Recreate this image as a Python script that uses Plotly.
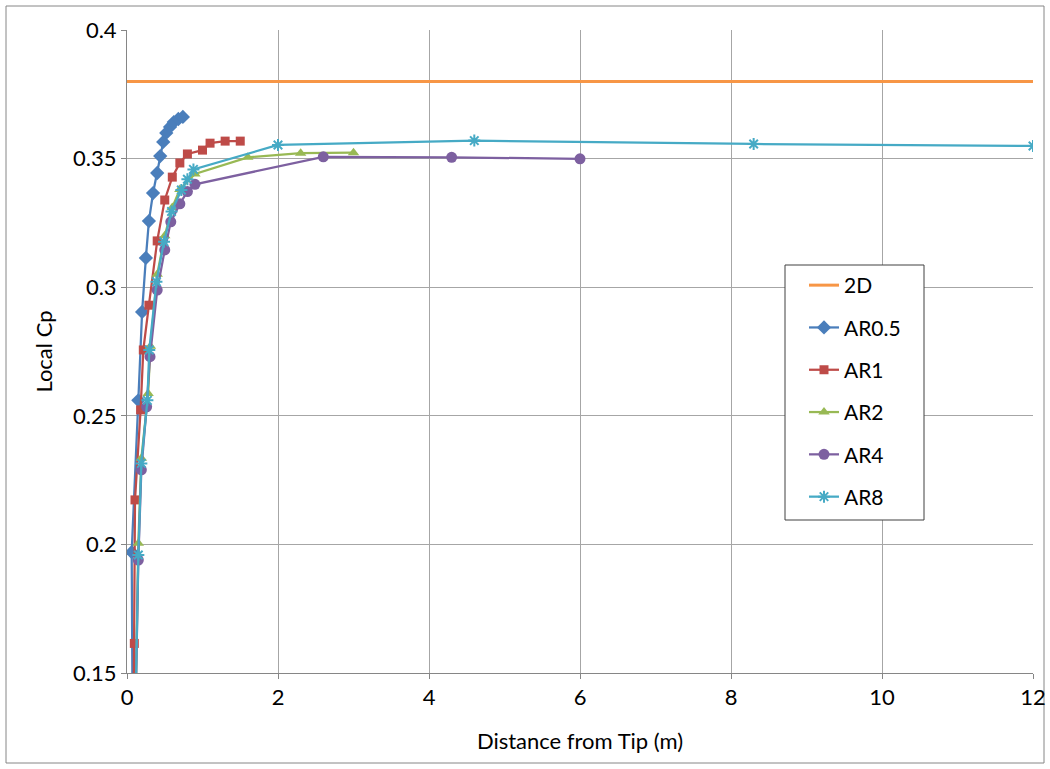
import plotly.graph_objects as go

# Reference 2D value
x_2d = [0, 12]
cp_2d = [0.38, 0.38]

# Local Cp along the span for each aspect ratio
x_ar05 = [0.08, 0.062, 0.15, 0.20, 0.25, 0.29, 0.345, 0.40, 0.44, 0.48, 0.52, 0.57, 0.62, 0.68, 0.74]
cp_ar05 = [0.10, 0.197, 0.256, 0.2904, 0.3114, 0.3257, 0.3366, 0.3444, 0.351, 0.3565, 0.360, 0.3623, 0.3642, 0.3654, 0.3662]

x_ar1 = [0.08, 0.097, 0.106, 0.18, 0.216, 0.29, 0.40, 0.50, 0.60, 0.70, 0.80, 1.0, 1.1, 1.3, 1.5]
cp_ar1 = [0.10, 0.1615, 0.2173, 0.2523, 0.2756, 0.293, 0.318, 0.3339, 0.3428, 0.3483, 0.3518, 0.3533, 0.356, 0.3568, 0.3568]

x_ar2 = [0.09, 0.15, 0.19, 0.28, 0.31, 0.40, 0.50, 0.60, 0.70, 0.90, 1.6, 2.3, 3.0]
cp_ar2 = [0.10, 0.2004, 0.2335, 0.2587, 0.277, 0.305, 0.320, 0.331, 0.338, 0.344, 0.3505, 0.3521, 0.3523]

x_ar4 = [0.09, 0.15, 0.19, 0.26, 0.305, 0.40, 0.50, 0.58, 0.70, 0.80, 0.90, 2.6, 4.3, 6.0]
cp_ar4 = [0.10, 0.1939, 0.229, 0.2535, 0.273, 0.2989, 0.3145, 0.3254, 0.3324, 0.3372, 0.340, 0.3507, 0.3505, 0.3499]

x_ar8 = [0.09, 0.15, 0.19, 0.27, 0.295, 0.39, 0.49, 0.59, 0.72, 0.80, 0.88, 2.0, 4.6, 8.3, 12.0]
cp_ar8 = [0.10, 0.1959, 0.2315, 0.256, 0.2756, 0.3021, 0.3177, 0.3294, 0.3378, 0.342, 0.3458, 0.3553, 0.357, 0.3557, 0.3549]

x_ticks = [0, 2, 4, 6, 8, 10, 12]
y_ticks = [0.15, 0.2, 0.25, 0.3, 0.35, 0.4]

FONT = "Lato, 'Open Sans', sans-serif"

# Plot-area geometry in pixels
L, R, T, B = 127, 17, 30, 96
PW, PH = 1050 - L - R, 769 - T - B


def px_x(p):
    return (p - L) / PW


def px_y(p):
    return (769 - B - p) / PH


fig = go.Figure()

fig.add_trace(go.Scatter(
    x=x_2d, y=cp_2d, name="2D", mode="lines",
    line=dict(color="#F79646", width=3), legendgroup="a"))

series = [
    ("AR0.5", x_ar05, cp_ar05, "#4A7EBB", "diamond", 11, 0),
    ("AR1", x_ar1, cp_ar1, "#BE4B48", "square", 9, 0),
    ("AR2", x_ar2, cp_ar2, "#98B954", "triangle-up", 10, 0),
    ("AR4", x_ar4, cp_ar4, "#7D60A0", "circle", 11, 0),
    ("AR8", x_ar8, cp_ar8, "#46AAC5", "asterisk-open", 10, 2),
]
for i, (name, xs, ys, col, sym, size, lw) in enumerate(series):
    fig.add_trace(go.Scatter(
        x=xs, y=ys, name=name, mode="lines+markers",
        line=dict(color=col, width=2.25),
        marker=dict(symbol=sym, size=size, color=col,
                    line=dict(color=col, width=lw)),
        legendgroup="g%d" % i))

fig.update_layout(
    width=1050, height=769,
    margin=dict(l=L, r=R, t=T, b=B, autoexpand=False),
    paper_bgcolor="white", plot_bgcolor="white",
    font=dict(family=FONT, size=21, color="black"),
    showlegend=True,
    legend=dict(
        x=px_x(804), y=px_y(265), xanchor="left", yanchor="top",
        bgcolor="rgba(0,0,0,0)", borderwidth=0,
        font=dict(family=FONT, size=21),
        tracegroupgap=12, itemwidth=30,
    ),
    xaxis=dict(
        range=[0, 12], tickvals=x_ticks, showgrid=True,
        gridcolor="#A6A6A6", gridwidth=1, zeroline=False,
        showline=True, linecolor="#868686", linewidth=1,
        ticks="outside", ticklen=5, tickcolor="#868686",
        tickfont=dict(size=22),
        title=dict(text="Distance from Tip (m)", font=dict(size=22), standoff=24),
    ),
    yaxis=dict(
        range=[0.15, 0.4], tickvals=y_ticks, showgrid=True,
        gridcolor="#A6A6A6", gridwidth=1, zeroline=False,
        showline=True, linecolor="#868686", linewidth=1,
        ticks="outside", ticklen=5, tickcolor="#868686",
        tickfont=dict(size=22),
        title=dict(text="Local Cp", font=dict(size=22), standoff=14),
    ),
)

# Legend box
fig.add_shape(type="rect", xref="paper", yref="paper",
              x0=px_x(785), x1=px_x(924), y0=px_y(520), y1=px_y(265),
              line=dict(color="#404040", width=1), fillcolor="white", layer="above")

# Chart frame
fig.add_shape(type="rect", xref="paper", yref="paper",
              x0=px_x(6), x1=px_x(1044), y0=px_y(763), y1=px_y(6),
              line=dict(color="#868686", width=1), layer="below")

fig.write_html("out.html")
